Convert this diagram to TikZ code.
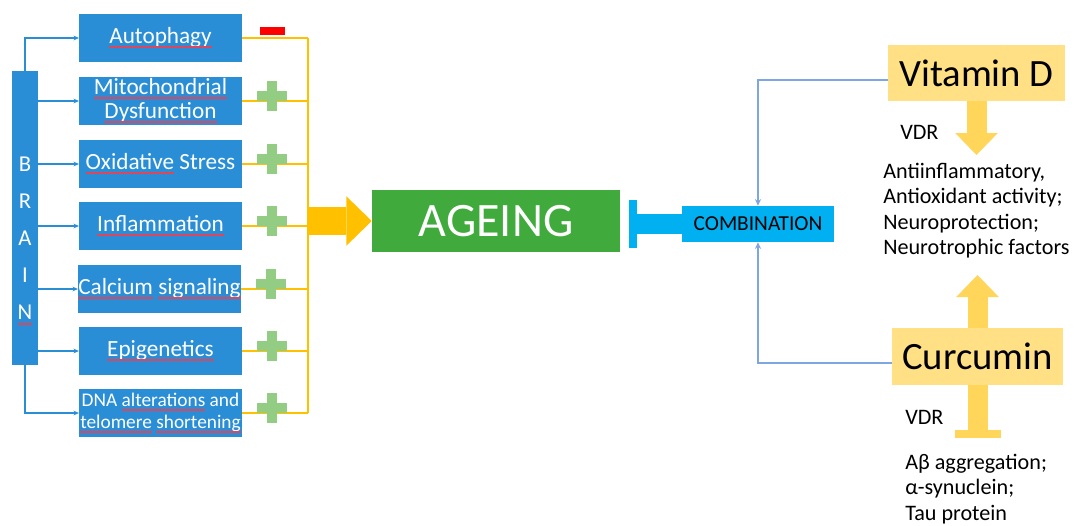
\documentclass[tikz,border=0pt]{standalone}
\usepackage{fontspec}
\setmainfont{Carlito}
\usetikzlibrary{
    arrows.meta,
    calc,
    positioning
}
\definecolor{brainblue}{HTML}{2A8ED6}
\definecolor{ageinggreen}{HTML}{40AA3C}
\definecolor{combblue}{HTML}{00B0F0}
\definecolor{linkblue}{HTML}{7EA6E0}
\definecolor{gold}{HTML}{FFC000}
\definecolor{drugyellow}{HTML}{FFE085}
\definecolor{drugarrow}{HTML}{FFD659}
\definecolor{plusgreen}{HTML}{93CD84}
\definecolor{spellred}{HTML}{D9485E}
% red spell-check underline
\newsavebox\spellbox
\newcommand\spell[1]{\sbox\spellbox{#1}\usebox\spellbox\llap{\color{spellred}\vrule width \wd\spellbox height -2pt depth 3.5pt}}
\tikzset{
    every picture/.style = {
        x = 0.75pt,
        y = -0.75pt
    },
    hallmark/.style = {
        rectangle,
        fill = brainblue,
        text = white,
        minimum width = 122pt,
        minimum height = 36pt,
        inner sep = 0pt,
        align = center,
        font = \fontsize{17.4}{18}\selectfont
    },
    drug/.style = {
        rectangle,
        fill = drugyellow,
        inner sep = 0pt,
        font = \fontsize{29}{32}\selectfont
    },
    effect/.style = {
        inner sep = 0pt,
        align = left,
        font = \fontsize{16.6}{19}\selectfont
    },
    input/.style = {
        draw = brainblue,
        line width = 1.2pt,
        -{Stealth[length = 4pt, width = 3.5pt]}
    },
    feed/.style = {
        draw = gold,
        line width = 1.2pt
    },
    link/.style = {
        draw = linkblue,
        line width = 1.5pt,
        -{Stealth[length = 5pt, width = 4.5pt]}
    },
    block/.style = {
        draw = drugarrow,
        line width = 15pt,
        -{Triangle[length = 16.5pt, width = 32pt, line width = 0pt]}
    },
    blockbar/.style = {
        line width = 15pt,
        -{Rectangle[length = 6pt, width = #1, line width = 0pt]}
    },
    plussign/.pic = {
        \fill[plusgreen] (-15,-5) rectangle (15,5);
        \fill[plusgreen] (-5,-15) rectangle (5,15);
    }
}

\begin{document}
\begin{tikzpicture}
    \useasboundingbox (0,0) rectangle (1074,525);

    % brain and hallmarks
    \node[rectangle, fill = brainblue, minimum width = 19.5pt, minimum height = 220.5pt] (brain) at (25,218) {};
    \node[text = white, align = center, inner sep = 0pt, font = \fontsize{17}{27.75}\selectfont] (brainlbl) at (25,241) {B\\R\\A\\I\\\spell{N}};

    \node[hallmark] (auto) at (160.5,38) {\spell{Autophagy}};
    \node[hallmark] (mito) at (160.5,101) {\spell{Mitochondrial}\\\spell{Dysfunction}};
    \node[hallmark] (oxid) at (160.5,164) {\spell{Oxidative} Stress};
    \node[hallmark] (infl) at (160.5,226) {\spell{Inflammation}};
    \node[hallmark] (calc) at (159.5,289) {\spell{Calcium} \spell{signaling}};
    \node[hallmark] (epig) at (160.5,351) {\spell{Epigenetics}};
    \node[hallmark, font = \fontsize{14.5}{16}\selectfont] (dna) at (160.5,413) {DNA \spell{alterations} and\\\spell{telomere} \spell{shortening}};

    \draw[input] (brain.north) |- (auto.west);
    \foreach \n in {mito, oxid, infl, calc, epig}
        \draw[input] (brain.east |- \n.west) -- (\n.west);
    \draw[input] (brain.south) |- (dna.west);

    % yellow collector
    \coordinate (bustop) at (308,38);
    \coordinate (busbot) at (308,413);
    \foreach \n in {auto, mito, oxid, infl, calc, epig, dna}
        \draw[feed] (\n.east) -- (\n.east -| bustop);
    \draw[feed] (bustop) -- (busbot);

    \fill[red] ($(auto.east)+(18,-11)$) rectangle ++(25,8);
    \foreach \n in {mito, oxid, infl, calc, epig, dna}
        \pic at ($(\n.east)+(30,-5)$) {plussign};

    % ageing
    \node[rectangle, fill = ageinggreen, text = white, minimum width = 186pt, minimum height = 46.5pt, font = \fontsize{36}{40}\selectfont] (ageing) at (496,221) {AGEING};
    \draw[gold, line width = 21pt, -{Triangle[length = 19pt, width = 37pt, line width = 0pt]}] (bustop |- ageing.west) -- (ageing.west);

    \node[rectangle, fill = combblue, minimum width = 114pt, minimum height = 27pt, inner sep = 0pt, font = \fontsize{16}{18}\selectfont] (comb) at (758,224) {COMBINATION};
    \draw[combblue, blockbar = 36pt] (comb.west) -- ($(ageing.east |- comb.west)+(9,0)$);

    % vitamin D and curcumin
    \node[drug, minimum width = 132.75pt, minimum height = 42pt] (vit) at (976.5,73) {Vitamin D};
    \node[drug, minimum width = 128.25pt, minimum height = 42.75pt] (cur) at (977.5,356.5) {Curcumin};

    \draw[link] ([yshift = -5pt]vit.west) -| (comb.north);
    \draw[link] ([yshift = -5pt]cur.west) -| (comb.south);

    \coordinate (vittip) at (976.5,155);
    \coordinate (curtip) at (977.5,275);
    \coordinate (curbar) at (977.5,438);
    \draw[block] (vit.south) -- (vittip);
    \draw[block] (cur.north) -- (curtip);
    \draw[drugarrow, blockbar = 34.5pt] (cur.south) -- (curbar);

    \node[effect, anchor = west] (vitvdr) at (900,132) {VDR};
    \node[effect, anchor = west] (curvdr) at (905,417) {VDR};
    \node[effect, anchor = north west] (vitfx) at (883,163) {Antiinflammatory,\\Antioxidant activity;\\Neuroprotection;\\Neurotrophic factors};
    \node[effect, anchor = north west] (curfx) at (905,454) {Aβ aggregation;\\α-synuclein;\\Tau protein};
\end{tikzpicture}
\end{document}
